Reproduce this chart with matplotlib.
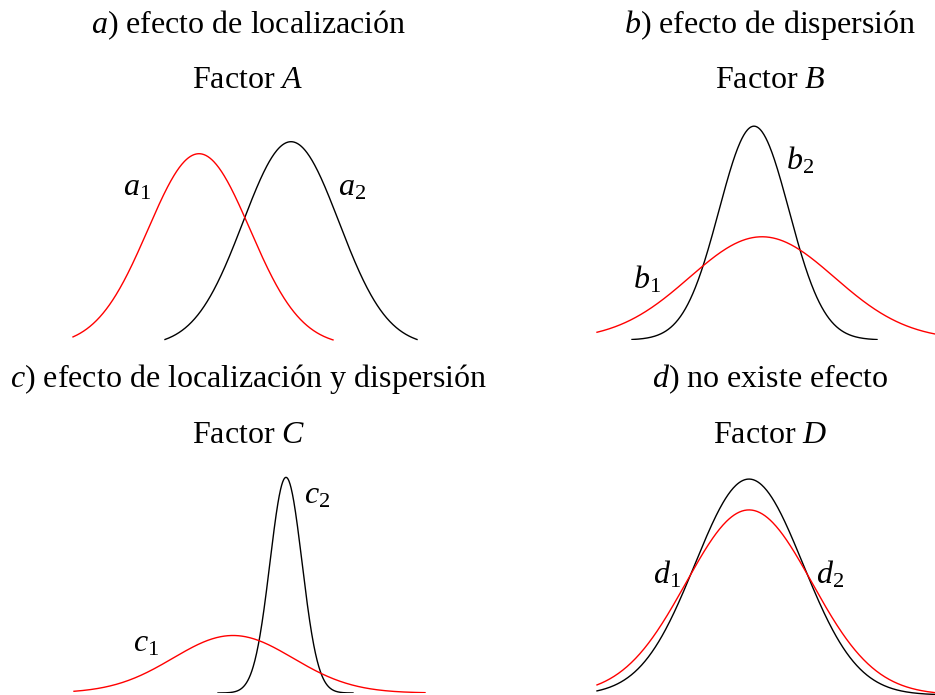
import numpy as np
import matplotlib.pyplot as plt

plt.rcParams['font.family'] = 'Liberation Serif'
plt.rcParams['mathtext.fontset'] = 'custom'
plt.rcParams['mathtext.rm'] = 'Liberation Serif'
plt.rcParams['mathtext.it'] = 'Liberation Serif:italic'

# Panel captions and factor letters
titles = [r'$a$) efecto de localización', r'$b$) efecto de dispersión',
          r'$c$) efecto de localización y dispersión', r'$d$) no existe efecto']
factors = ['A', 'B', 'C', 'D']
levels = ['a', 'b', 'c', 'd']

# Level 1 (red) normal curves: mean, sd and drawn x range
mean_1 = [-0.92, 0.08, -0.34, 0.0]
sd_1 = [1.02, 1.45, 1.20, 1.26]
lo_1 = [-3.44, -3.22, -3.52, -3.04]
hi_1 = [1.76, 3.60, 3.50, 3.80]

# Level 2 (black) normal curves
mean_2 = [0.92, -0.08, 0.72, 0.0]
sd_2 = [0.96, 0.70, 0.32, 1.08]
lo_2 = [-1.60, -2.52, -0.64, -3.04]
hi_2 = [3.44, 2.38, 2.06, 3.80]

W, H = 935, 695
fig = plt.figure(figsize=(W / 100, H / 100), dpi=100)


def px(x, y):
    return x / W, 1 - y / H


def normal_pdf(x, mu, sd):
    return np.exp(-0.5 * ((x - mu) / sd) ** 2) / (sd * np.sqrt(2 * np.pi))


# axes boxes in pixels (left, right, top, baseline) and their data limits
boxes = [(60, 430, 110, 346), (580, 935, 110, 340),
         (60, 430, 460, 693), (580, 935, 460, 695)]
xlims = [(-3.7, 3.7), (-3.56, 3.54), (-3.8, 3.6), (-3.38, 3.72)]
ytops = [0.48, 0.613, 1.347, 0.402]

# caption / factor / label placements (pixels)
title_pos = [(249, 33), (770, 33), (248, 387), (770, 387)]
factor_pos = [(248, 88), (770, 88), (249, 443), (770, 443)]
lab1_pos = [(123, 196), (633, 288), (133, 652), (653, 583)]
lab2_pos = [(338, 195), (786, 169), (304, 504), (816, 583)]

for i in range(4):
    L, R, T, B = boxes[i]
    ax = fig.add_axes([L / W, 1 - B / H, (R - L) / W, (B - T) / H])
    ax.set_xlim(*xlims[i])
    ax.set_ylim(0, ytops[i])
    ax.axis('off')

    x1 = np.linspace(lo_1[i], hi_1[i], 400)
    x2 = np.linspace(lo_2[i], hi_2[i], 400)
    ax.plot(x2, normal_pdf(x2, mean_2[i], sd_2[i]), color='black', lw=1.0)
    ax.plot(x1, normal_pdf(x1, mean_1[i], sd_1[i]), color='#ff0000', lw=1.0)

    fig.text(*px(*title_pos[i]), titles[i], ha='center', va='baseline', fontsize=23)
    fig.text(*px(*factor_pos[i]), 'Factor $%s$' % factors[i], ha='center',
             va='baseline', fontsize=23)
    fig.text(*px(*lab1_pos[i]), '$%s_1$' % levels[i], ha='left', va='baseline', fontsize=23)
    fig.text(*px(*lab2_pos[i]), '$%s_2$' % levels[i], ha='left', va='baseline', fontsize=23)

fig.savefig('out.png', dpi=100)
